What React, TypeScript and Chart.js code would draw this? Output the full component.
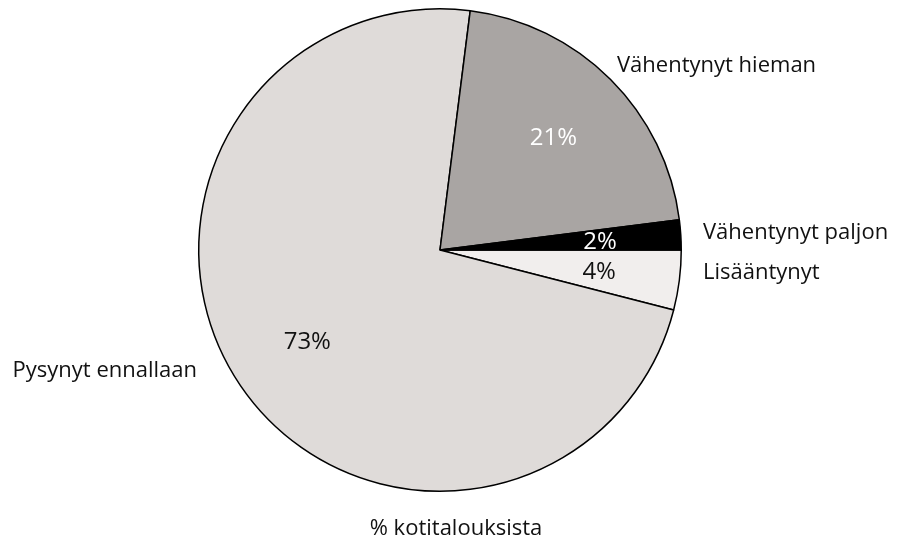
import React, { useEffect, useRef } from "react";
import { Chart, registerables } from "chart.js";

Chart.register(...registerables);

const categories = ["Lisääntynyt", "Pysynyt ennallaan", "Vähentynyt hieman", "Vähentynyt paljon"];
const values = [4, 73, 21, 2];
const percentLabels = ["4%", "73%", "21%", "2%"];
const sliceColors = ["#f1eeed", "#dfdbd9", "#a9a5a3", "#000000"];
const percentColors = ["#111111", "#111111", "#ffffff", "#ffffff"];
const footerText = "% kotitalouksista";

// outside label placement relative to pie centre: [dx, dy(baseline), align]
const outsideLabelLayout: [number, number, CanvasTextAlign][] = [
  [263, 29, "left"],
  [-243, 127, "right"],
  [177, -178, "left"],
  [263, -11, "left"],
];

const FONT = '"Open Sans", "DejaVu Sans", sans-serif';

const labelPlugin = {
  id: "pieLabels",
  afterDatasetsDraw(chart: any) {
    const ctx = chart.ctx as CanvasRenderingContext2D;
    const meta = chart.getDatasetMeta(0);
    ctx.save();
    meta.data.forEach((arc: any, i: number) => {
      const { x, y, startAngle, endAngle, outerRadius } = arc.getProps(
        ["x", "y", "startAngle", "endAngle", "outerRadius"],
        true
      );
      const mid = (startAngle + endAngle) / 2;
      const d = outerRadius * 0.665;
      const px = x + Math.cos(mid) * d;
      const py = y + Math.sin(mid) * d;
      ctx.font = `24px ${FONT}`;
      ctx.fillStyle = percentColors[i];
      ctx.textAlign = "center";
      ctx.textBaseline = "alphabetic";
      ctx.fillText(percentLabels[i], px, py + 24 * 0.36);

      const [dx, dy, align] = outsideLabelLayout[i];
      ctx.font = `22px ${FONT}`;
      ctx.fillStyle = "#111111";
      ctx.textAlign = align;
      ctx.fillText(categories[i], x + dx, y + dy);
    });
    ctx.font = `22px ${FONT}`;
    ctx.fillStyle = "#111111";
    ctx.textAlign = "center";
    ctx.fillText(footerText, 456, 535);
    ctx.restore();
  },
};

export default function App() {
  const ref = useRef<HTMLCanvasElement | null>(null);
  useEffect(() => {
    if (!ref.current) return;
    const chart = new Chart(ref.current, {
      type: "pie",
      data: {
        labels: categories,
        datasets: [
          {
            data: values,
            backgroundColor: sliceColors,
            borderColor: "#000000",
            borderWidth: 1.5,
          },
        ],
      },
      options: {
        animation: false,
        responsive: false,
        rotation: 90,
        layout: { padding: { left: 198, right: 218, top: 8, bottom: 48 } },
        plugins: {
          legend: { display: false },
          tooltip: { enabled: false },
          title: { display: false },
        },
      },
      plugins: [labelPlugin],
    });
    return () => chart.destroy();
  }, []);
  return (
    <div style={{ position: "fixed", left: 0, top: 0, width: 900, height: 540, background: "#fff" }}>
      <canvas ref={ref} width={900} height={540} />
    </div>
  );
}
